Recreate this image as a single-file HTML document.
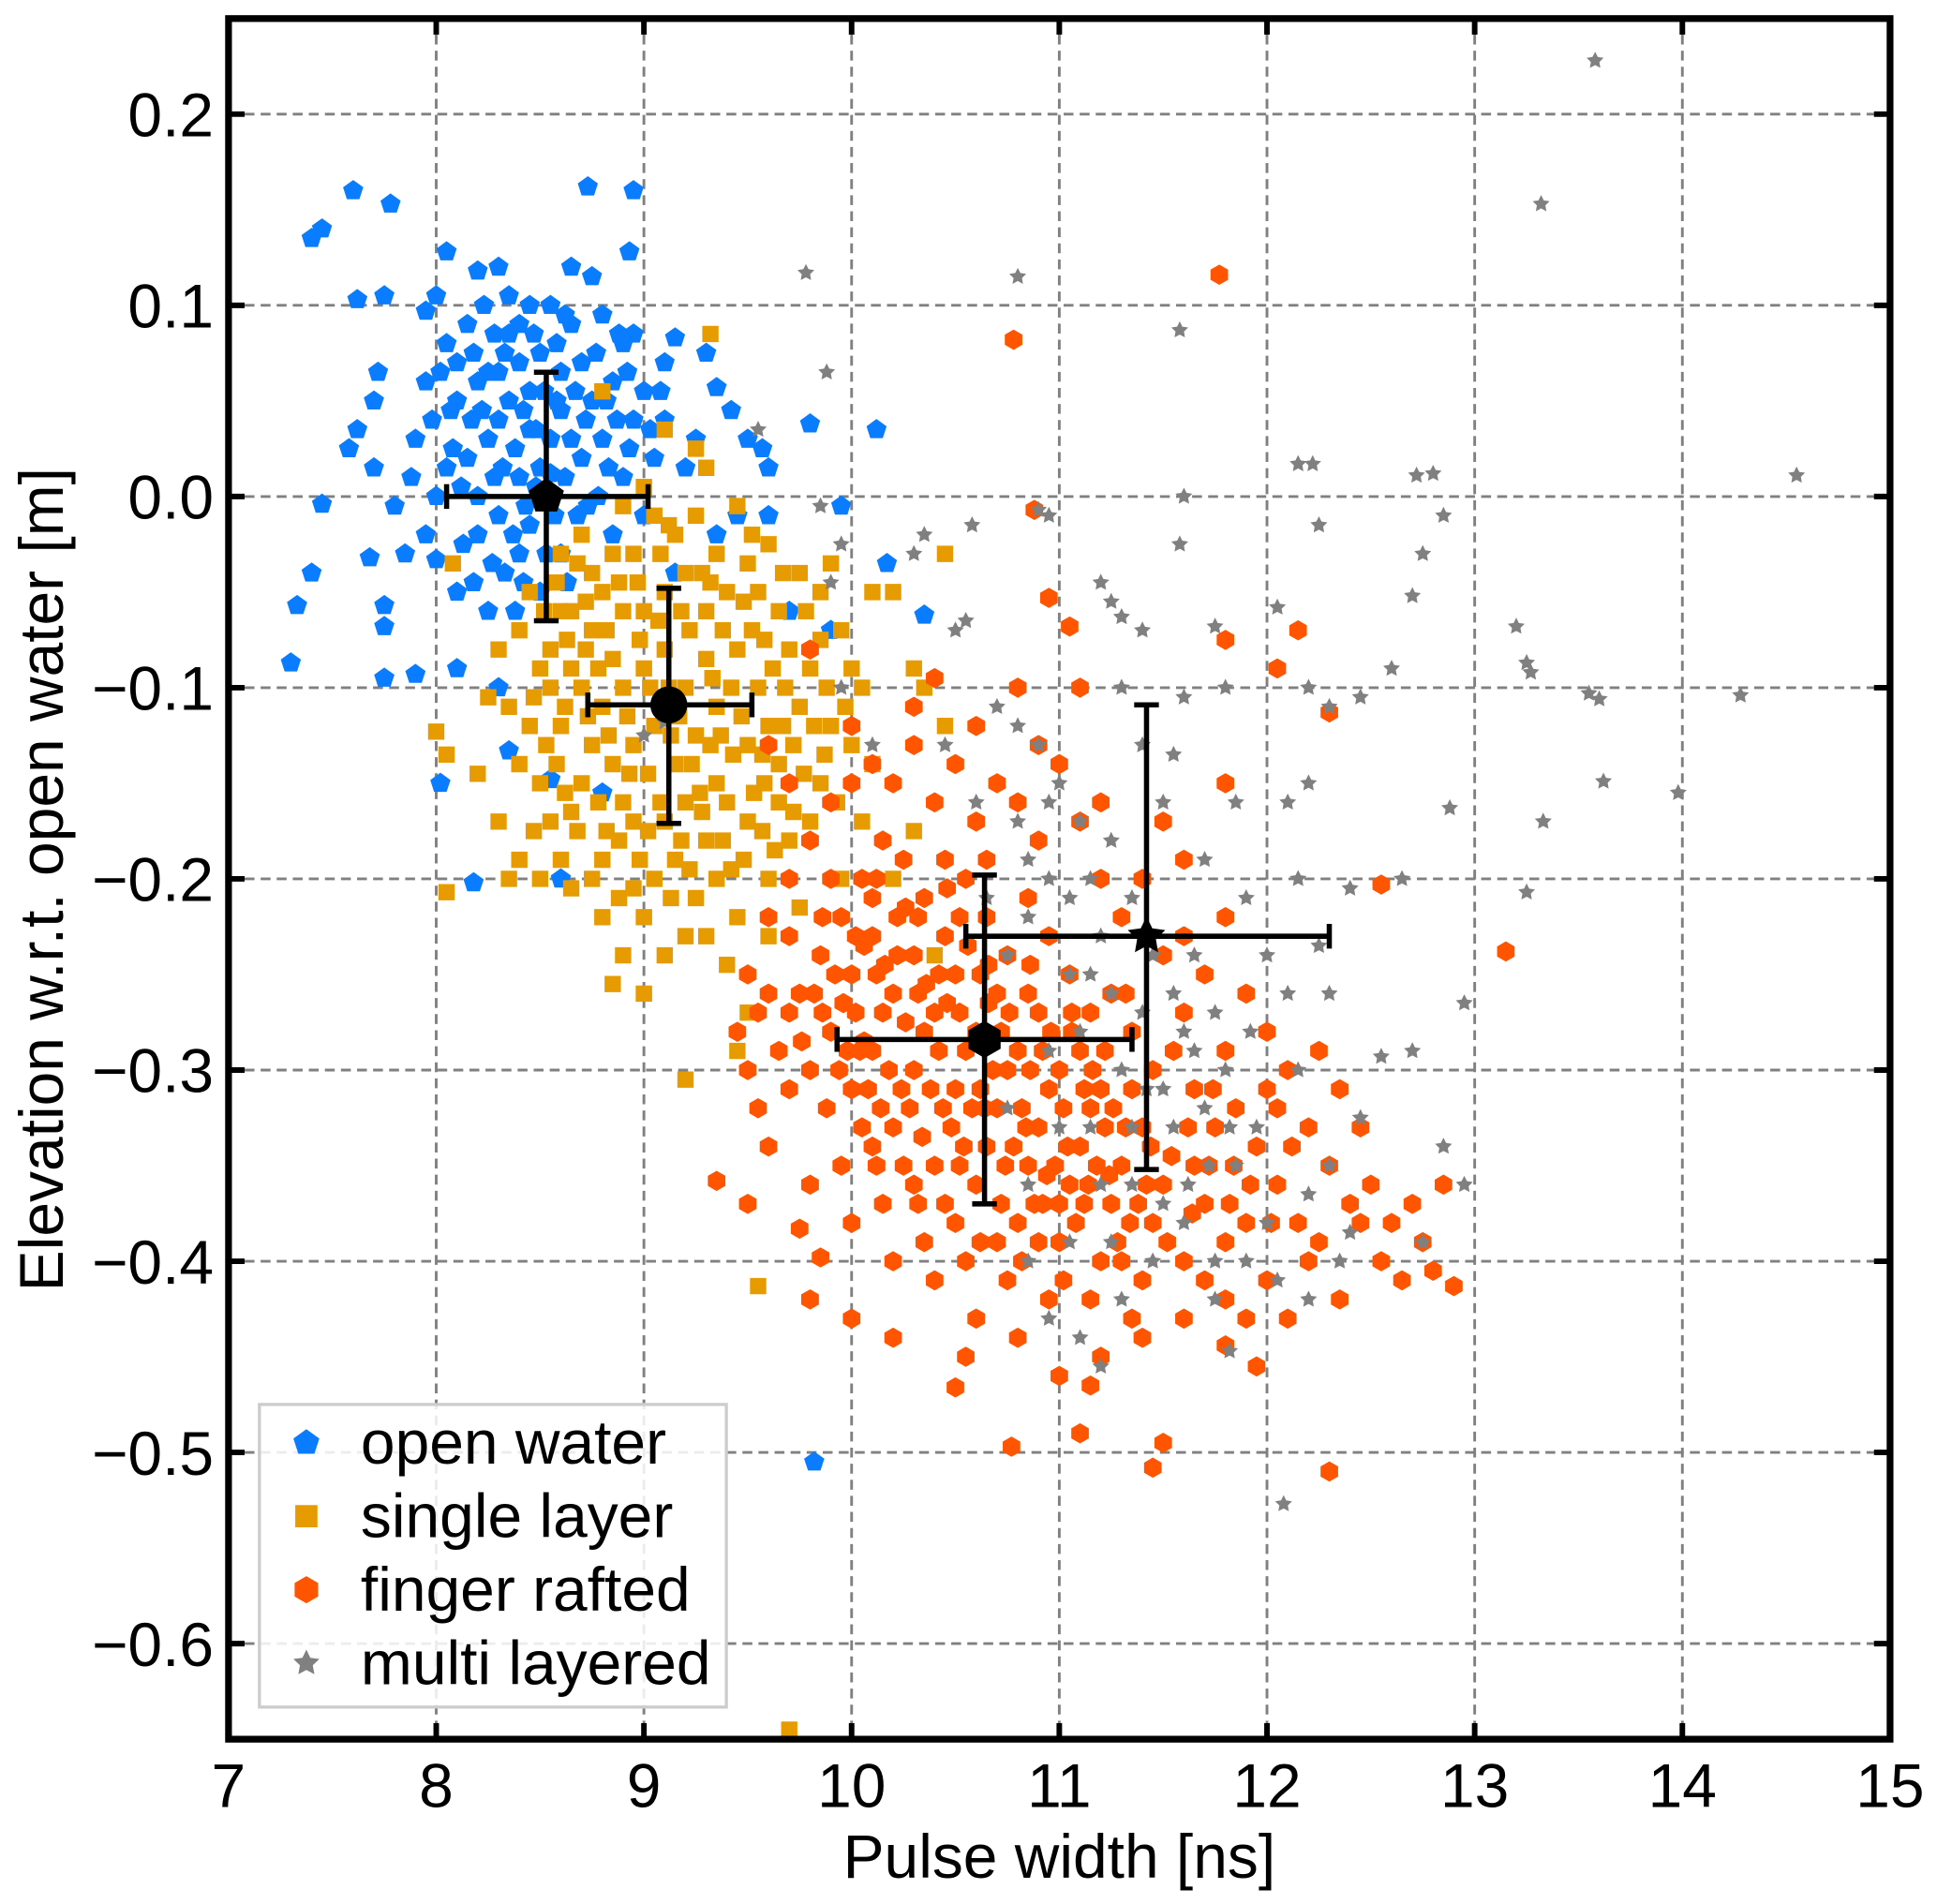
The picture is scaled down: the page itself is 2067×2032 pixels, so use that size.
<!DOCTYPE html>
<html><head><meta charset="utf-8"><style>
html,body{margin:0;padding:0;background:#fff;}
svg{display:block;font-family:"Liberation Sans",Arial,sans-serif;}
</style></head><body>
<svg id="chart" width="2067" height="2032" viewBox="0 0 1568 1541.4" xmlns="http://www.w3.org/2000/svg">
<g id="grid"></g>
<g id="marks"></g>
<g id="frame"></g>
<g id="legend"></g>
</svg>
<script>
const xTicks=[7,8,9,10,11,12,13,14,15];
const yTicks=[0.2,0.1,0.0,-0.1,-0.2,-0.3,-0.4,-0.5,-0.6];
const yTickLabels=["0.2","0.1","0.0","\u22120.1","\u22120.2","\u22120.3","\u22120.4","\u22120.5","\u22120.6"];
const seriesNames=["open water","single layer","finger rafted","multi layered"];
const openWater=[[7.6,0.16],[7.78,0.153],[7.4,0.135],[7.45,0.14],[8.73,0.162],[8.95,0.16],[8.93,0.128],[7.33,-0.057],[7.3,-0.087],[7.4,-0.04],[7.45,-0.004],[7.75,-0.095],[7.9,-0.093],[8.02,-0.15],[8.18,-0.202],[9.8,0.038],[10.12,0.035],[9.82,-0.505],[10.35,-0.062],[10.17,-0.035],[9.95,-0.005],[9.6,-0.01],[9.57,0.025],[9.5,0.03],[9.42,0.045],[9.35,0.057],[9.3,0.075],[9.1,0.07],[9.15,0.083],[8.45,0.1],[8.65,0.12],[8.75,0.115],[8.8,0.095],[8.9,0.08],[8.3,0.12],[8.2,0.118],[8.05,0.128],[8.0,0.105],[7.95,0.097],[7.75,0.105],[7.62,0.103],[7.72,0.065],[7.7,0.05],[7.62,0.035],[7.58,0.025],[7.7,0.015],[7.8,-0.005],[7.85,-0.03],[7.75,-0.068],[7.75,-0.057],[7.68,-0.032],[8.1,-0.09],[8.3,-0.1],[8.35,-0.133],[8.55,-0.148],[8.8,-0.155],[8.6,-0.2],[8.0,-0.033],[7.9,0.03],[7.95,0.06],[8.05,0.08],[8.1,0.05],[8.15,0.02],[8.2,-0.02],[8.25,0.065],[8.3,0.04],[8.35,0.085],[8.4,0.01],[8.45,0.055],[8.5,0.075],[8.55,0.03],[8.6,0.045],[8.65,0.09],[8.7,0.02],[8.75,0.05],[8.8,0.03],[8.85,0.06],[8.9,0.01],[8.95,0.04],[9.0,0.055],[9.05,0.02],[9.1,0.04],[9.2,0.015],[9.25,0.03],[8.3,-0.01],[8.4,-0.03],[8.5,-0.05],[8.2,0.0],[8.1,-0.05],[8.0,0.0],[7.95,-0.02],[8.45,-0.015],[8.6,-0.03],[8.25,-0.06],[8.15,0.09],[8.35,0.105],[8.55,0.1],[8.6,0.065],[8.5,0.015],[8.35,0.05],[8.25,0.03],[8.4,0.07],[8.2,0.06],[8.45,0.035],[8.05,0.015],[8.1,0.07],[8.85,-0.02],[9.0,-0.01],[9.15,-0.04],[9.35,-0.02],[9.45,-0.01],[9.6,0.015],[9.7,-0.06],[9.9,-0.07],[8.7,0.07],[8.95,0.085],[8.3,0.065],[8.38,0.025],[8.28,0.085],[8.17,0.04],[8.42,-0.045],[8.22,0.045],[8.32,0.015],[8.42,0.045],[8.52,0.055],[8.62,0.01],[8.72,0.04],[8.12,0.005],[8.27,-0.035],[8.37,-0.02],[8.47,0.085],[8.57,-0.01],[8.67,0.055],[8.77,0.075],[8.87,0.04],[8.07,0.045],[8.18,0.075],[8.33,0.075],[8.48,0.005],[8.58,0.08],[8.68,-0.01],[8.78,0.0],[8.92,0.065],[8.02,0.065],[8.13,-0.025],[8.38,-0.06],[8.55,0.012],[8.65,0.03],[8.4,0.09],[7.88,0.01],[7.98,0.04],[8.08,0.025],[8.28,0.01],[8.33,-0.04],[8.43,-0.005],[8.53,-0.03],[8.63,-0.045],[8.73,-0.005],[8.83,0.015],[8.93,0.025],[9.03,0.035],[8.18,-0.045],[8.23,0.1],[8.48,0.035],[8.58,0.05],[8.62,0.095],[8.82,0.05],[8.88,0.085],[9.08,0.055]];
const singleLayer=[[9.32,0.085],[8.8,0.055],[9.1,0.035],[9.25,0.025],[8.08,-0.035],[8.0,-0.123],[8.05,-0.135],[8.05,-0.207],[8.65,-0.205],[8.9,-0.24],[8.85,-0.255],[8.8,-0.22],[9.0,-0.26],[9.1,-0.24],[9.2,-0.23],[9.4,-0.245],[9.5,-0.27],[9.55,-0.413],[9.7,-0.645],[9.2,-0.305],[9.45,-0.29],[10.1,-0.05],[10.2,-0.05],[10.45,-0.03],[10.3,-0.09],[10.35,-0.1],[10.45,-0.12],[10.3,-0.175],[10.2,-0.2],[10.4,-0.24],[8.2,-0.145],[8.3,-0.17],[8.35,-0.2],[8.4,-0.19],[8.55,-0.17],[8.25,-0.105],[8.3,-0.08],[8.45,-0.05],[8.6,-0.03],[8.7,-0.02],[8.9,-0.005],[9.0,0.005],[9.3,0.015],[9.45,-0.005],[9.6,-0.025],[9.75,-0.04],[9.85,-0.05],[9.95,-0.07],[10.0,-0.09],[9.9,-0.12],[9.85,-0.15],[9.7,-0.18],[9.6,-0.2],[9.45,-0.22],[9.25,-0.21],[9.05,-0.2],[8.8,-0.19],[8.6,-0.19],[8.5,-0.15],[8.45,-0.12],[8.5,-0.09],[8.6,-0.06],[8.75,-0.04],[8.95,-0.03],[9.15,-0.02],[9.35,-0.03],[9.55,-0.05],[9.7,-0.08],[9.75,-0.11],[9.65,-0.14],[9.5,-0.17],[9.3,-0.18],[9.1,-0.17],[8.9,-0.16],[8.7,-0.15],[8.6,-0.12],[8.65,-0.09],[8.75,-0.07],[8.9,-0.06],[9.1,-0.05],[9.3,-0.06],[9.45,-0.08],[9.55,-0.1],[9.5,-0.13],[9.35,-0.15],[9.15,-0.14],[8.95,-0.13],[8.8,-0.11],[8.85,-0.085],[9.0,-0.09],[9.2,-0.1],[9.35,-0.11],[9.25,-0.125],[9.05,-0.12],[8.9,-0.1],[9.1,-0.08],[9.3,-0.085],[9.4,-0.05],[9.2,-0.04],[9.0,-0.06],[8.8,-0.05],[8.7,-0.1],[8.75,-0.13],[8.55,-0.08],[9.6,-0.12],[9.8,-0.09],[9.9,-0.035],[10.0,-0.13],[10.05,-0.17],[9.95,-0.2],[9.75,-0.215],[9.6,-0.23],[9.35,-0.2],[9.15,-0.19],[8.95,-0.17],[8.65,-0.165],[8.4,-0.14],[8.35,-0.11],[8.4,-0.07],[8.55,-0.1],[8.65,-0.06],[8.85,-0.03],[9.05,-0.01],[9.25,-0.01],[9.5,-0.035],[9.65,-0.06],[9.85,-0.075],[10.05,-0.1],[10.1,-0.14],[9.3,-0.23],[9.0,-0.22],[8.75,-0.2],[9.4,-0.16],[9.2,-0.16],[8.85,-0.14],[9.65,-0.16],[9.8,-0.17],[8.5,-0.2],[8.95,-0.205],[8.62,-0.11],[8.72,-0.08],[8.82,-0.07],[8.92,-0.115],[9.02,-0.145],[9.12,-0.1],[9.22,-0.07],[9.32,-0.13],[9.42,-0.1],[9.52,-0.07],[9.62,-0.09],[9.72,-0.13],[8.68,-0.175],[8.78,-0.16],[8.88,-0.18],[8.98,-0.19],[9.08,-0.16],[9.18,-0.18],[9.28,-0.165],[9.38,-0.18],[9.48,-0.19],[9.58,-0.15],[9.68,-0.1],[9.78,-0.06],[8.58,-0.045],[8.68,-0.035],[8.78,-0.09],[8.88,-0.045],[8.98,-0.075],[9.08,-0.03],[9.18,-0.06],[9.28,-0.04],[9.38,-0.07],[9.48,-0.055],[9.58,-0.075],[9.03,-0.1],[9.13,-0.125],[9.23,-0.14],[9.33,-0.095],[8.93,-0.145],[8.73,-0.115],[9.43,-0.135],[9.53,-0.155],[9.63,-0.185],[9.13,-0.21],[8.88,-0.21],[8.53,-0.13],[8.47,-0.175],[9.88,-0.1],[9.93,-0.16],[8.58,-0.14],[8.63,-0.075],[8.83,-0.125],[8.97,-0.045],[9.07,-0.065],[9.17,-0.115],[9.27,-0.155],[9.37,-0.125],[9.47,-0.115],[9.57,-0.135],[9.67,-0.12],[9.77,-0.145],[9.82,-0.12],[9.72,-0.165],[9.57,-0.175],[9.42,-0.195],[9.22,-0.195],[9.02,-0.175],[8.82,-0.175],[8.62,-0.155],[8.47,-0.105],[8.52,-0.06],[8.72,-0.055],[9.12,-0.015],[9.32,-0.045],[9.52,-0.02],[9.67,-0.04],[9.87,-0.135],[9.97,-0.11]];
const fingerRafted=[[11.77,0.116],[10.78,0.082],[10.88,-0.007],[10.95,-0.053],[11.05,-0.068],[11.8,-0.075],[12.05,-0.09],[12.15,-0.07],[12.3,-0.113],[10.4,-0.095],[10.8,-0.1],[11.1,-0.1],[9.8,-0.08],[9.6,-0.13],[9.7,-0.15],[13.15,-0.238],[12.55,-0.203],[12.9,-0.413],[12.8,-0.405],[12.3,-0.51],[11.45,-0.508],[11.5,-0.495],[11.1,-0.49],[10.77,-0.497],[11.15,-0.465],[10.5,-0.466],[10.55,-0.45],[11.95,-0.455],[11.8,-0.444],[9.35,-0.358],[9.5,-0.37],[9.8,-0.42],[9.85,-0.398],[9.75,-0.383],[10.0,-0.43],[10.2,-0.44],[9.7,-0.31],[9.5,-0.25],[9.6,-0.22],[9.7,-0.2],[9.8,-0.18],[9.9,-0.16],[10.0,-0.15],[10.1,-0.14],[10.2,-0.15],[10.3,-0.13],[10.4,-0.16],[10.5,-0.14],[10.6,-0.17],[10.7,-0.15],[10.8,-0.16],[10.9,-0.18],[11.0,-0.14],[11.1,-0.17],[11.2,-0.2],[11.3,-0.22],[11.4,-0.2],[11.5,-0.24],[11.6,-0.23],[11.7,-0.25],[11.8,-0.22],[11.9,-0.26],[12.0,-0.28],[12.1,-0.3],[12.2,-0.33],[12.3,-0.35],[12.4,-0.37],[12.5,-0.36],[12.6,-0.38],[12.7,-0.37],[12.75,-0.39],[12.85,-0.36],[12.2,-0.4],[12.0,-0.41],[11.8,-0.42],[11.6,-0.43],[11.4,-0.44],[11.2,-0.45],[11.0,-0.46],[10.8,-0.44],[10.6,-0.43],[10.4,-0.41],[10.2,-0.4],[10.0,-0.38],[9.8,-0.36],[9.6,-0.34],[9.5,-0.3],[9.45,-0.28],[9.55,-0.27],[9.65,-0.29],[9.75,-0.26],[9.85,-0.24],[9.95,-0.22],[10.05,-0.2],[10.15,-0.18],[10.25,-0.19],[10.35,-0.21],[10.45,-0.23],[10.55,-0.2],[10.65,-0.22],[10.75,-0.24],[10.85,-0.21],[10.95,-0.23],[11.05,-0.25],[11.15,-0.27],[11.25,-0.26],[11.35,-0.28],[11.45,-0.3],[11.55,-0.29],[11.65,-0.31],[11.75,-0.33],[11.85,-0.32],[11.95,-0.34],[12.05,-0.36],[12.15,-0.38],[12.25,-0.39],[11.9,-0.38],[11.7,-0.37],[11.5,-0.36],[11.3,-0.35],[11.1,-0.34],[10.9,-0.33],[10.7,-0.32],[10.5,-0.31],[10.3,-0.3],[10.1,-0.29],[9.9,-0.28],[9.7,-0.27],[9.8,-0.3],[10.0,-0.31],[10.2,-0.33],[10.4,-0.35],[10.6,-0.36],[10.8,-0.38],[11.0,-0.39],[11.2,-0.4],[11.4,-0.41],[11.6,-0.4],[11.8,-0.39],[10.0,-0.25],[10.2,-0.26],[10.4,-0.27],[10.6,-0.28],[10.8,-0.29],[11.0,-0.3],[11.2,-0.31],[11.4,-0.33],[10.1,-0.23],[10.3,-0.24],[10.5,-0.25],[10.7,-0.26],[10.9,-0.27],[11.1,-0.29],[10.15,-0.27],[10.35,-0.28],[10.55,-0.29],[10.75,-0.3],[10.95,-0.31],[11.15,-0.32],[11.35,-0.31],[10.05,-0.33],[10.25,-0.35],[10.45,-0.37],[10.65,-0.34],[10.85,-0.35],[11.05,-0.36],[11.25,-0.37],[11.45,-0.38],[11.65,-0.35],[9.95,-0.35],[10.15,-0.37],[10.35,-0.39],[10.55,-0.4],[10.75,-0.41],[10.95,-0.42],[11.15,-0.42],[11.35,-0.43],[12.45,-0.33],[12.55,-0.4],[12.65,-0.41],[12.35,-0.42],[12.1,-0.43],[11.9,-0.43],[12.05,-0.32],[12.25,-0.29],[11.6,-0.19],[11.8,-0.15],[11.5,-0.17],[11.2,-0.16],[10.9,-0.13],[10.6,-0.12],[10.3,-0.11],[10.0,-0.12],[9.9,-0.2],[9.6,-0.26],[9.55,-0.32],[9.7,-0.23],[10.1,-0.21],[10.45,-0.19],[10.65,-0.19],[10.85,-0.26],[11.6,-0.27],[11.8,-0.29],[12.0,-0.31],[12.35,-0.31],[11.7,-0.41],[12.45,-0.38],[9.82,-0.26],[9.92,-0.25],[10.02,-0.27],[10.12,-0.25],[10.22,-0.22],[10.32,-0.26],[10.42,-0.25],[10.52,-0.27],[10.62,-0.25],[10.72,-0.28],[10.82,-0.32],[10.92,-0.29],[11.02,-0.32],[11.12,-0.31],[11.22,-0.33],[11.32,-0.33],[9.88,-0.32],[9.98,-0.29],[10.08,-0.31],[10.18,-0.3],[10.28,-0.32],[10.38,-0.31],[10.48,-0.33],[10.58,-0.32],[10.68,-0.3],[10.78,-0.34],[10.88,-0.37],[10.98,-0.35],[11.08,-0.38],[11.18,-0.35],[11.28,-0.39],[11.38,-0.37],[10.02,-0.23],[10.12,-0.2],[10.22,-0.24],[10.32,-0.22],[10.42,-0.29],[10.52,-0.22],[10.62,-0.31],[10.72,-0.37],[10.82,-0.4],[10.92,-0.37],[11.02,-0.41],[11.12,-0.37],[10.12,-0.35],[10.32,-0.37],[10.52,-0.35],[10.62,-0.39],[11.22,-0.29],[11.32,-0.26],[11.42,-0.36],[11.52,-0.39],[11.62,-0.33],[11.72,-0.35],[11.82,-0.37],[11.92,-0.36],[12.02,-0.38],[12.12,-0.34],[9.76,-0.285],[9.86,-0.27],[9.96,-0.265],[10.06,-0.285],[10.16,-0.245],[10.26,-0.275],[10.36,-0.255],[10.46,-0.265],[10.56,-0.235],[10.66,-0.265],[10.76,-0.27],[10.86,-0.3],[10.96,-0.28],[11.06,-0.28],[11.16,-0.3],[11.26,-0.32],[9.94,-0.3],[10.04,-0.29],[10.14,-0.32],[10.24,-0.31],[10.34,-0.335],[10.44,-0.32],[10.54,-0.34],[10.64,-0.32],[10.74,-0.35],[10.84,-0.33],[10.94,-0.355],[11.04,-0.34],[11.14,-0.36],[11.24,-0.355],[11.34,-0.38],[11.44,-0.34],[11.54,-0.345],[11.64,-0.375],[11.74,-0.31],[11.84,-0.35],[9.86,-0.22],[10.06,-0.235],[10.26,-0.215],[10.46,-0.205],[10.66,-0.245],[10.86,-0.245],[11.06,-0.27],[10.9,-0.39],[10.7,-0.39],[10.5,-0.38],[10.3,-0.36],[10.1,-0.34],[11.0,-0.37],[11.3,-0.4]];
const multiLayered=[[13.58,0.228],[13.32,0.153],[14.55,0.011],[14.28,-0.104],[13.6,-0.106],[13.55,-0.103],[13.62,-0.149],[13.98,-0.155],[13.33,-0.17],[13.25,-0.207],[13.25,-0.087],[13.27,-0.092],[13.2,-0.068],[12.85,-0.01],[12.8,0.012],[12.72,0.011],[12.75,-0.03],[12.7,-0.052],[12.6,-0.09],[12.45,-0.105],[12.88,-0.163],[12.95,-0.265],[12.65,-0.2],[12.7,-0.29],[12.55,-0.293],[12.45,-0.325],[12.85,-0.34],[12.95,-0.36],[12.75,-0.39],[12.4,-0.385],[12.2,-0.42],[12.08,-0.527],[11.82,-0.447],[11.75,-0.42],[11.2,-0.455],[11.1,-0.44],[10.95,-0.43],[11.6,-0.105],[11.6,0.0],[11.58,-0.025],[11.58,0.087],[10.8,0.115],[9.78,0.117],[9.88,0.065],[9.55,0.035],[9.85,-0.005],[9.95,-0.025],[10.35,-0.02],[10.58,-0.015],[10.9,-0.007],[10.95,-0.01],[11.2,-0.045],[11.25,-0.055],[11.3,-0.063],[11.3,-0.1],[11.4,-0.07],[11.75,-0.068],[12.05,-0.058],[12.15,0.017],[12.22,0.017],[12.25,-0.015],[12.2,-0.1],[12.3,-0.11],[12.2,-0.15],[12.1,-0.16],[12.15,-0.2],[12.4,-0.205],[12.25,-0.235],[12.3,-0.26],[12.1,-0.26],[12.15,-0.3],[12.3,-0.35],[12.2,-0.365],[12.35,-0.4],[12.0,-0.38],[12.05,-0.41],[11.9,-0.4],[11.85,-0.35],[11.8,-0.3],[11.75,-0.27],[11.65,-0.24],[11.6,-0.28],[11.55,-0.33],[11.5,-0.37],[11.45,-0.4],[11.3,-0.42],[11.35,-0.36],[11.3,-0.3],[11.25,-0.26],[11.2,-0.23],[11.15,-0.2],[11.1,-0.17],[11.0,-0.15],[10.9,-0.13],[10.8,-0.12],[10.7,-0.11],[10.55,-0.065],[10.5,-0.07],[10.3,-0.03],[10.1,-0.13],[10.45,-0.13],[10.6,-0.16],[10.8,-0.17],[10.95,-0.2],[11.05,-0.25],[11.1,-0.28],[11.15,-0.33],[11.2,-0.36],[11.05,-0.39],[11.0,-0.33],[10.95,-0.29],[11.4,-0.27],[11.5,-0.31],[11.7,-0.32],[11.95,-0.33],[12.0,-0.24],[11.9,-0.21],[11.7,-0.19],[11.5,-0.16],[11.4,-0.13],[11.55,-0.135],[11.8,-0.1],[11.85,-0.16],[10.65,-0.21],[10.75,-0.24],[10.85,-0.22],[9.9,-0.045],[9.95,-0.1],[9.0,-0.125],[9.1,-0.118],[10.85,-0.19],[10.75,-0.32],[10.85,-0.36],[11.25,-0.39],[11.6,-0.38],[11.75,-0.4],[10.85,-0.4],[11.45,-0.24],[11.55,-0.26],[11.65,-0.29],[11.72,-0.35],[11.82,-0.33],[11.92,-0.28],[11.35,-0.33],[11.42,-0.31],[11.62,-0.36],[11.15,-0.25],[11.05,-0.21],[10.95,-0.16],[11.25,-0.18],[11.35,-0.21]];
const meanX=[8.53,9.12,10.64,11.42];
const meanY=[0.0,-0.109,-0.284,-0.23];
const errXLow=[8.05,8.73,9.93,10.55];
const errXHigh=[9.02,9.52,11.35,12.3];
const errYLow=[-0.065,-0.171,-0.37,-0.352];
const errYHigh=[0.065,-0.048,-0.198,-0.109];

const NS="http://www.w3.org/2000/svg";
const L=185,R=1530,T=15,B=1408,XMIN=7,XMAX=15,YMIN=-0.65,YMAX=0.25;
function sx(v){return L+(v-XMIN)/(XMAX-XMIN)*(R-L);}
function sy(v){return T+(YMAX-v)/(YMAX-YMIN)*(B-T);}
function mk(tag,attrs,parent){const e=document.createElementNS(NS,tag);for(const k in attrs)e.setAttribute(k,attrs[k]);parent.appendChild(e);return e;}
function poly(n,r,rot){const p=[];for(let i=0;i<n;i++){const a=rot+i*2*Math.PI/n;p.push([r*Math.sin(a),-r*Math.cos(a)]);}return p;}
function star(r){const p=[];for(let i=0;i<10;i++){const a=i*Math.PI/5;const rr=i%2?r*0.5:r;p.push([rr*Math.sin(a),-rr*Math.cos(a)]);}return p;}
function shapePts(kind,cx,cy,s){let p;
 if(kind==='p')p=poly(5,s,0);else if(kind==='h')p=poly(6,s,0);else if(kind==='*')p=star(s);else p=[[-s,-s],[s,-s],[s,s],[-s,s]];
 return p.map(q=>(cx+q[0]).toFixed(1)+','+(cy+q[1]).toFixed(1)).join(' ');}

const grid=document.getElementById('grid');
xTicks.forEach(v=>{if(v>XMIN&&v<XMAX){const l=mk('line',{x1:sx(v),x2:sx(v),y1:T,y2:B,stroke:'#808080','stroke-width':2.2,'stroke-dasharray':'8,5'},grid);

}});
yTicks.forEach(v=>{const l=mk('line',{x1:L,x2:R,y1:sy(v),y2:sy(v),stroke:'#808080','stroke-width':2.2,'stroke-dasharray':'8,5'},grid);

});

const marks=document.getElementById('marks');
const series=[[openWater,'p','#0a7cff',8.6,'open-water-point'],[singleLayer,'s','#e69c00',6.6,'single-layer-point'],[fingerRafted,'h','#ff5500',8.2,'finger-rafted-point'],[multiLayered,'*','#808080',7.2,'multi-layered-point']];
series.forEach(s=>{s[0].forEach(d=>{const e=mk('polygon',{points:shapePts(s[1],sx(d[0]),sy(d[1]),s[3]),fill:s[2]},marks);

});});

const meanKinds=['p','c','h','*'];
for(let i=0;i<4;i++){const g=mk('g',{},marks);


const cx=sx(meanX[i]),cy=sy(meanY[i]),x1=sx(errXLow[i]),x2=sx(errXHigh[i]),y1=sy(errYHigh[i]),y2=sy(errYLow[i]);
const st={stroke:'#000','stroke-width':4.2};
mk('line',Object.assign({x1:x1,x2:x2,y1:cy,y2:cy},st),g);
mk('line',Object.assign({x1:cx,x2:cx,y1:y1,y2:y2},st),g);
mk('line',Object.assign({x1:x1,x2:x1,y1:cy-10,y2:cy+10},st),g);
mk('line',Object.assign({x1:x2,x2:x2,y1:cy-10,y2:cy+10},st),g);
mk('line',Object.assign({x1:cx-10,x2:cx+10,y1:y1,y2:y1},st),g);
mk('line',Object.assign({x1:cx-10,x2:cx+10,y1:y2,y2:y2},st),g);
if(meanKinds[i]==='c')mk('circle',{cx:cx,cy:cy,r:15,fill:'#000'},g);
else mk('polygon',{points:shapePts(meanKinds[i],cx,cy,meanKinds[i]==='*'?16:15),fill:'#000'},g);}

const fr=document.getElementById('frame');
xTicks.forEach(v=>{const x=sx(v);
mk('line',{x1:x,x2:x,y1:B,y2:B-13,stroke:'#000','stroke-width':4.5},fr);
mk('line',{x1:x,x2:x,y1:T,y2:T+13,stroke:'#000','stroke-width':4.5},fr);
const t=mk('text',{x:x,y:1463,'font-size':50,'text-anchor':'middle',fill:'#000'},fr);t.textContent=String(v);

});
yTicks.forEach((v,i)=>{const y=sy(v);
mk('line',{x1:L,x2:L+13,y1:y,y2:y,stroke:'#000','stroke-width':4.5},fr);
mk('line',{x1:R,x2:R-13,y1:y,y2:y,stroke:'#000','stroke-width':4.5},fr);
const t=mk('text',{x:173,y:y+18,'font-size':50,'text-anchor':'end',fill:'#000'},fr);t.textContent=yTickLabels[i];

});
const sp=mk('rect',{x:L,y:T,width:R-L,height:B-T,fill:'none',stroke:'#000','stroke-width':5.5},fr);


const xl=mk('text',{x:(L+R)/2,y:1520,'font-size':50,'text-anchor':'middle',fill:'#000'},fr);xl.textContent='Pulse width [ns]';


const yl=mk('text',{x:0,y:0,'font-size':50,'text-anchor':'middle',fill:'#000',transform:'translate(51,712) rotate(-90)'},fr);yl.textContent='Elevation w.r.t. open water [m]';



const lg=document.getElementById('legend');
mk('rect',{x:210,y:1137,width:378,height:245,fill:'#fff','fill-opacity':0.85,stroke:'#cccccc','stroke-width':2.5},lg);
const lgKinds=['p','s','h','*'],lgCols=['#0a7cff','#e69c00','#ff5500','#808080'],lgSz=[11,9,11,11];
seriesNames.forEach((n,i)=>{const y=1168+i*59.5;const g=mk('g',{},lg);


mk('polygon',{points:shapePts(lgKinds[i],248,y,lgSz[i]),fill:lgCols[i]},g);
const t=mk('text',{x:292,y:y+17,'font-size':50,fill:'#000'},g);t.textContent=n;});
</script>
</body></html>
